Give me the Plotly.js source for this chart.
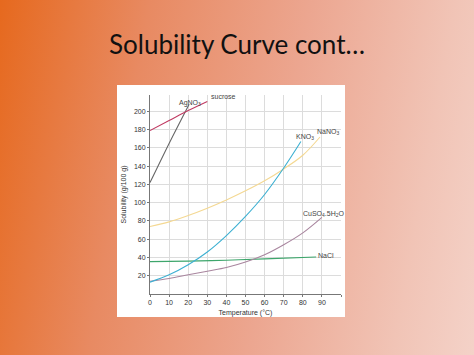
<!DOCTYPE html>
<html><head><meta charset="utf-8">
<script src="https://cdn.plot.ly/plotly-3.0.1.min.js"></script>
<style>
html,body{margin:0;padding:0;width:474px;height:355px;overflow:hidden;}
body{background:linear-gradient(100deg,#e6691e 0%,#e88a62 28%,#eca690 58%,#f1c4b6 85%,#f4d2c8 100%);}
#box{position:absolute;left:117px;top:85px;width:228px;height:232px;background:#fff;}
#chart{position:absolute;left:0;top:0;width:474px;height:355px;}
</style></head>
<body>
<div id="box"></div>
<div id="chart"></div>
<script>
const sucroseT=[0,10,20,30];
const sucroseS=[179,190,201,211];
const agno3T=[0,10,20.5];
const agno3S=[122,165,208];
const nano3T=[0,10,20,30,40,50,60,70,80,89];
const nano3S=[74,79,86,94,103,113,124,137,152,172];
const kno3T=[0,10,20,30,40,50,60,70,79];
const kno3S=[13,21,32,46,64,85,109,138,167];
const cuso4T=[0,10,20,30,40,50,60,70,80,90];
const cuso4S=[14,17,21,25,29,35,43,54,67,84];
const naclT=[0,20,40,60,87];
const naclS=[35.5,36,37,38.5,40.5];
const xTicks=[0,10,20,30,40,50,60,70,80,90,100];
const xLabels=['0','10','20','30','40','50','60','70','80','90',''];
const yTicks=[20,40,60,80,100,120,140,160,180,200];

function tr(x,y,c){return {x:x,y:y,type:'scatter',mode:'lines',line:{color:c,width:1.1,shape:'spline'},hoverinfo:'skip'};}
const data=[
 tr(naclT,naclS,'#3ea66c'),
 tr(cuso4T,cuso4S,'#a9869f'),
 tr(nano3T,nano3S,'#f4d892'),
 tr(kno3T,kno3S,'#3db0d2'),
 tr(agno3T,agno3S,'#666666'),
 tr(sucroseT,sucroseS,'#c03a62')
];
const lf={family:'Liberation Sans, Arial, sans-serif',size:7,color:'#444'};
function ann(x,y,t,xa){return {x:x,y:y,xref:'x',yref:'y',text:t,showarrow:false,font:lf,xanchor:xa||'center'};}
const layout={
 width:474,height:355,
 paper_bgcolor:'rgba(0,0,0,0)',plot_bgcolor:'rgba(0,0,0,0)',
 margin:{l:150,r:133,t:95,b:61},
 showlegend:false,
 title:{text:'Solubility Curve cont…',font:{family:'Lato, sans-serif',size:26,color:'#111'},x:0.5,xanchor:'center',xref:'container',y:0.873,yanchor:'middle'},
 xaxis:{range:[0,100],tickvals:xTicks,ticktext:xLabels,showgrid:true,gridcolor:'#dcdcdc',gridwidth:1,zeroline:false,
   showline:true,linecolor:'#777',linewidth:1,ticks:'outside',ticklen:2,tickcolor:'#777',
   tickfont:{family:'Liberation Sans, Arial, sans-serif',size:7,color:'#333'},
   title:{text:'Temperature (°C)',font:{family:'Liberation Sans, Arial, sans-serif',size:7,color:'#333'},standoff:4}},
 yaxis:{range:[0,218],tickvals:yTicks,showgrid:true,gridcolor:'#dcdcdc',gridwidth:1,zeroline:false,
   showline:true,linecolor:'#777',linewidth:1,ticks:'outside',ticklen:2,tickcolor:'#777',
   tickfont:{family:'Liberation Sans, Arial, sans-serif',size:7,color:'#333'},
   title:{text:'Solubility (g/100 g)',font:{family:'Liberation Sans, Arial, sans-serif',size:7,color:'#333'},standoff:6}},
 annotations:[
  ann(21,209,'AgNO<sub>3</sub>'),
  ann(31,216,'sucrose','left'),
  ann(81,172,'KNO<sub>3</sub>'),
  ann(93,178,'NaNO<sub>3</sub>'),
  ann(91,88,'CuSO<sub>4</sub>.5H<sub>2</sub>O'),
  ann(92,42,'NaCl')
 ]
};
Plotly.newPlot('chart',data,layout,{staticPlot:true,displayModeBar:false});
</script>
</body></html>
